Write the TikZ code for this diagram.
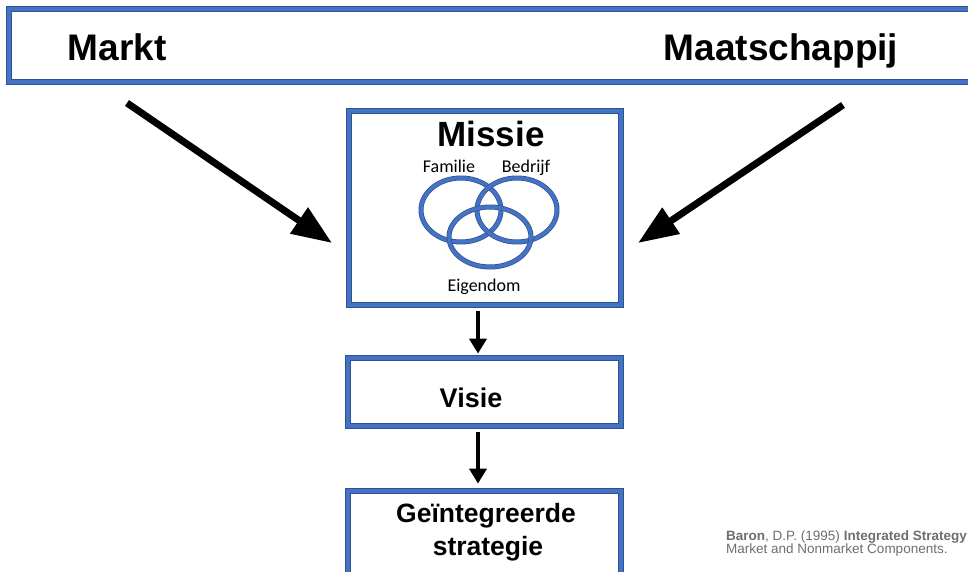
\documentclass[tikz,border=0pt]{standalone}
\usepackage{fontspec}
\setmainfont{Liberation Sans}
\newfontfamily\calibri{Carlito}
\usetikzlibrary{arrows.meta}
\definecolor{bfill}{HTML}{4472C4}
\definecolor{bline}{HTML}{2F528F}
\definecolor{citegray}{HTML}{6E6E6E}
\begin{document}
\begin{tikzpicture}[x=1pt,y=-1pt,
  bluebox/.style={draw=bline, line width=0.8pt, double=bfill, double distance=4pt, fill=white, inner sep=0pt},
  ring/.style={draw=bline, line width=0.7pt, double=bfill, double distance=3.6pt},
  bigarrow/.style={line width=7pt, -{Triangle[length=40pt,width=30pt]}},
  smallarrow/.style={line width=3.8pt, -{Triangle[length=15pt,width=17pt]}},
  bigtxt/.style={font=\bfseries\fontsize{37}{44}\selectfont, anchor=base, inner sep=0pt},
  midtxt/.style={font=\bfseries\fontsize{26.5}{31}\selectfont, anchor=base, inner sep=0pt},
  ringtxt/.style={font=\calibri\fontsize{18}{21}\selectfont, anchor=base, inner sep=0pt},
  citetxt/.style={font=\fontsize{13.5}{15}\selectfont, text=citegray, anchor=base west, inner sep=0pt}]
\useasboundingbox (0,0) rectangle (968,571);
\clip (0,0) rectangle (968,571);
% top band
\node[bluebox, minimum width=980pt, minimum height=73pt] (top) at (499,45.5) {};
\node[bigtxt] (markt) at (117,60) {Markt};
\node[bigtxt] (maat) at (781,60) {Maatschappij};
% missie box
\node[bluebox, minimum width=272pt, minimum height=194pt] (missie) at (485,208) {};
\node[bigtxt, font=\bfseries\fontsize{35}{42}\selectfont] (missietxt) at (491,146) {Missie};
\draw[ring] (461,210) ellipse [x radius=40, y radius=32];
\draw[ring] (517,210) ellipse [x radius=40, y radius=32];
\draw[ring] (490,237) ellipse [x radius=41, y radius=30];
\node[ringtxt] (fam) at (449,172) {Familie};
\node[ringtxt] (bed) at (526,172) {Bedrijf};
\node[ringtxt] (eig) at (484,291) {Eigendom};
% visie
\node[bluebox, minimum width=273pt, minimum height=68pt] (visie) at (484.5,392) {};
\node[midtxt, font=\bfseries\fontsize{27}{31}\selectfont] (visietxt) at (471,407) {Visie};
% strategie
\node[bluebox, minimum width=273pt, minimum height=110pt] (strat) at (484.5,546) {};
\node[midtxt] (s1) at (486,522) {Geïntegreerde};
\node[midtxt] (s2) at (488,555) {strategie};
% arrows
\coordinate (ltail) at (127,103);
\coordinate (ltip) at (332,243);
\coordinate (rtail) at (843,105);
\coordinate (rtip) at (638,243);
\draw[bigarrow] (ltail) -- (ltip);
\draw[bigarrow] (rtail) -- (rtip);
\draw[smallarrow] ([xshift=-7pt,yshift=-6pt]missie.south) -- ([xshift=-6.5pt,yshift=4pt]visie.north);
\draw[smallarrow] ([xshift=-6.5pt,yshift=-6pt]visie.south) -- ([xshift=-6.5pt,yshift=7pt]strat.north);
% citation
\node[citetxt] (c1) at (726,540) {\textbf{Baron}, D.P. (1995) \textbf{Integrated Strategy}};
\node[citetxt] (c2) at (726,553) {Market and Nonmarket Components.};
\end{tikzpicture}
\end{document}
